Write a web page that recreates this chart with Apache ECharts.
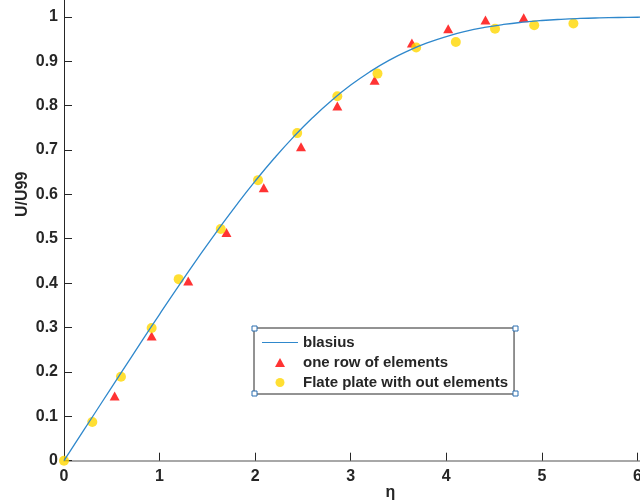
<!DOCTYPE html>
<html>
<head>
<meta charset="utf-8">
<script src="https://cdn.jsdelivr.net/npm/echarts@6/dist/echarts.min.js"></script>
<style>html,body{margin:0;padding:0;background:#fff}#c{width:640px;height:500px}</style>
</head>
<body>
<div id="c"></div>
<script>
// Blasius profile (eta, U/U99)
const blasiusEta = [0,0.2,0.4,0.6,0.8,1.0,1.2,1.4,1.6,1.8,2.0,2.2,2.4,2.6,2.8,3.0,3.2,3.4,3.6,3.8,4.0,4.2,4.4,4.6,4.8,5.0,5.2,5.4,5.6,5.8,6.0,6.2,6.4,6.6,6.8,7.0];
const blasiusU = [0,0.0664,0.1328,0.1989,0.2647,0.3298,0.3938,0.4563,0.5168,0.5748,0.6298,0.6813,0.7290,0.7725,0.8115,0.8461,0.8761,0.9018,0.9233,0.9411,0.9555,0.9670,0.9759,0.9827,0.9878,0.9916,0.9943,0.9962,0.9975,0.9984,0.9990,0.9994,0.9996,0.9998,0.9999,0.9999];
// one row of elements
const rowEta = [0.53,0.917,1.30,1.70,2.09,2.48,2.86,3.25,3.64,4.02,4.41,4.81];
const rowU = [0.146,0.281,0.405,0.514,0.615,0.707,0.799,0.857,0.941,0.973,0.993,0.998];
// flat plate without elements
const plateEta = [0,0.296,0.596,0.917,1.20,1.64,2.03,2.44,2.86,3.28,3.685,4.10,4.51,4.92,5.33];
const plateU = [0,0.087,0.189,0.299,0.409,0.522,0.632,0.738,0.821,0.872,0.931,0.943,0.973,0.981,0.985];
const seriesNames = ['blasius','one row of elements','Flate plate with out elements'];

const zip = (a,b) => a.map((v,i)=>[v,b[i]]);
const FONT = 'Liberation Sans, Arial, sans-serif';
const LINE_COLOR = '#2f88cc';
const TRI = 'path://M5,0L10,9L0,9Z';
const chart = echarts.init(document.getElementById('c'), null, {renderer:'canvas'});
const handle = (x,y) => ({type:'rect', shape:{x:x-2.5,y:y-2.5,width:5,height:5}, style:{fill:'#fff',stroke:'#2a6fb0',lineWidth:1}, z:100});
chart.setOption({
  animation:false,
  backgroundColor:'#fff',
  grid:{left:64, right:-93, top:-72, bottom:39.3, containLabel:false, outerBoundsMode:'none'},
  xAxis:{
    type:'value', min:0, max:7, interval:1,
    name:'η', nameLocation:'middle', nameGap:24, nameMoveOverlap:false,
    nameTextStyle:{color:'#262626', fontSize:16, fontWeight:'bold', fontFamily:FONT, padding:[0,16,0,0]},
    axisLine:{lineStyle:{color:'#8c8c8c', width:1.5}},
    axisTick:{inside:true, length:8, lineStyle:{color:'#262626'}},
    axisLabel:{color:'#262626', fontSize:16, fontWeight:'bold', fontFamily:FONT, margin:8},
    splitLine:{show:false}
  },
  yAxis:{
    type:'value', min:0, max:1.2, interval:0.1,
    name:'U/U99', nameLocation:'middle', nameGap:33, nameMoveOverlap:false,
    nameTextStyle:{color:'#262626', fontSize:16, fontWeight:'bold', fontFamily:FONT},
    axisLine:{show:true, lineStyle:{color:'#262626', width:1}},
    axisTick:{show:true, inside:true, length:8, lineStyle:{color:'#262626'}},
    axisLabel:{color:'#262626', fontSize:16, fontWeight:'bold', fontFamily:FONT, margin:6},
    splitLine:{show:false}
  },
  legend:{
    orient:'vertical', left:254, top:328,
    padding:[7,6,4,8],
    itemWidth:36, itemHeight:9, itemGap:5,
    borderColor:'#262626', borderWidth:1, backgroundColor:'#fff',
    textStyle:{color:'#262626', fontSize:15, fontWeight:'bold', fontFamily:FONT},
    data:[
      {name:seriesNames[0], icon:'path://M0,0H36V1.2H0Z'},
      {name:seriesNames[1], icon:TRI},
      {name:seriesNames[2]}
    ]
  },
  graphic:[handle(254.5,328.5), handle(515.5,328.5), handle(254.5,393.5), handle(515.5,393.5)],
  series:[
    {name:seriesNames[0], type:'line', data:zip(blasiusEta,blasiusU), showSymbol:false, symbol:'none', smooth:true,
     symbolKeepAspect:true,
     lineStyle:{color:LINE_COLOR, width:1.3}, itemStyle:{color:LINE_COLOR}, z:5},
    {name:seriesNames[1], type:'scatter', data:zip(rowEta,rowU), symbol:'triangle', symbolSize:[10,9],
     symbolKeepAspect:true, itemStyle:{color:'#ff0000'}, z:2},
    {name:seriesNames[2], type:'scatter', data:zip(plateEta,plateU), symbol:'circle', symbolSize:10,
     symbolKeepAspect:true, itemStyle:{color:'#ffd700'}, z:3}
  ]
});
</script>
</body>
</html>
